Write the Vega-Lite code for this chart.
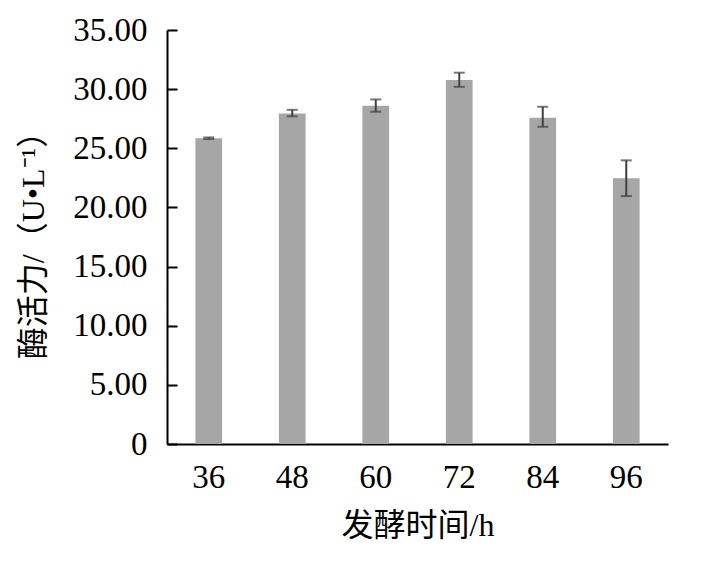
{
  "$schema": "https://vega.github.io/schema/vega-lite/v6.json",
  "autosize": {"type": "none"},
  "width": 501,
  "height": 414,
  "padding": {"left": 167, "top": 30, "right": 48, "bottom": 119},
  "background": "white",
  "data": {"values": [
    {"t": "36", "v": 25.85, "lo": 25.78, "hi": 25.92},
    {"t": "48", "v": 27.95, "lo": 27.70, "hi": 28.25},
    {"t": "60", "v": 28.60, "lo": 28.09, "hi": 29.13},
    {"t": "72", "v": 30.77, "lo": 30.20, "hi": 31.39},
    {"t": "84", "v": 27.58, "lo": 26.82, "hi": 28.51},
    {"t": "96", "v": 22.46, "lo": 20.96, "hi": 23.98}
  ]},
  "encoding": {
    "x": {
      "field": "t", "type": "ordinal", "sort": null,
      "scale": {"paddingInner": 0, "paddingOuter": 0},
      "axis": {
        "title": "发酵时间/h",
        "labelAngle": 0,
        "labelFont": "Liberation Serif",
        "labelFontSize": 33,
        "labelColor": "black",
        "labelPadding": 22,
        "tickSize": -5,
        "tickColor": "black",
        "tickWidth": 2,
        "domainColor": "black",
        "domainWidth": 2,
        "titleFont": "Liberation Serif, Noto Sans CJK SC",
        "titleFontSize": 32,
        "titleFontWeight": "normal",
        "titleColor": "black",
        "titlePadding": 16
      }
    }
  },
  "layer": [
    {
      "mark": {"type": "bar", "color": "#a6a6a6", "width": {"band": 0.32}},
      "encoding": {
        "y": {
          "field": "v", "type": "quantitative",
          "scale": {"domain": [0, 35], "nice": false},
          "axis": {
            "title": "酶活力/（U•L⁻¹）",
            "values": [0, 5, 10, 15, 20, 25, 30, 35],
            "labelExpr": "datum.value == 0 ? '0' : format(datum.value, '.2f')",
            "grid": false,
            "labelFont": "Liberation Serif",
            "labelFontSize": 33,
            "labelColor": "black",
            "labelPadding": 30,
            "tickSize": -10,
            "tickColor": "black",
            "tickWidth": 2,
            "domainColor": "black",
            "domainWidth": 2,
            "titleFont": "Liberation Serif, Noto Sans CJK SC",
            "titleFontSize": 32,
            "titleFontWeight": "normal",
            "titleColor": "black",
            "titlePadding": 22
          }
        }
      }
    },
    {
      "mark": {"type": "rule", "color": "#404040", "strokeWidth": 2},
      "encoding": {
        "y": {"field": "lo", "type": "quantitative"},
        "y2": {"field": "hi"}
      }
    },
    {
      "mark": {"type": "tick", "color": "#404040", "thickness": 2, "size": 11},
      "encoding": {"y": {"field": "lo", "type": "quantitative"}}
    },
    {
      "mark": {"type": "tick", "color": "#404040", "thickness": 2, "size": 11},
      "encoding": {"y": {"field": "hi", "type": "quantitative"}}
    }
  ],
  "config": {"view": {"stroke": null}}
}
